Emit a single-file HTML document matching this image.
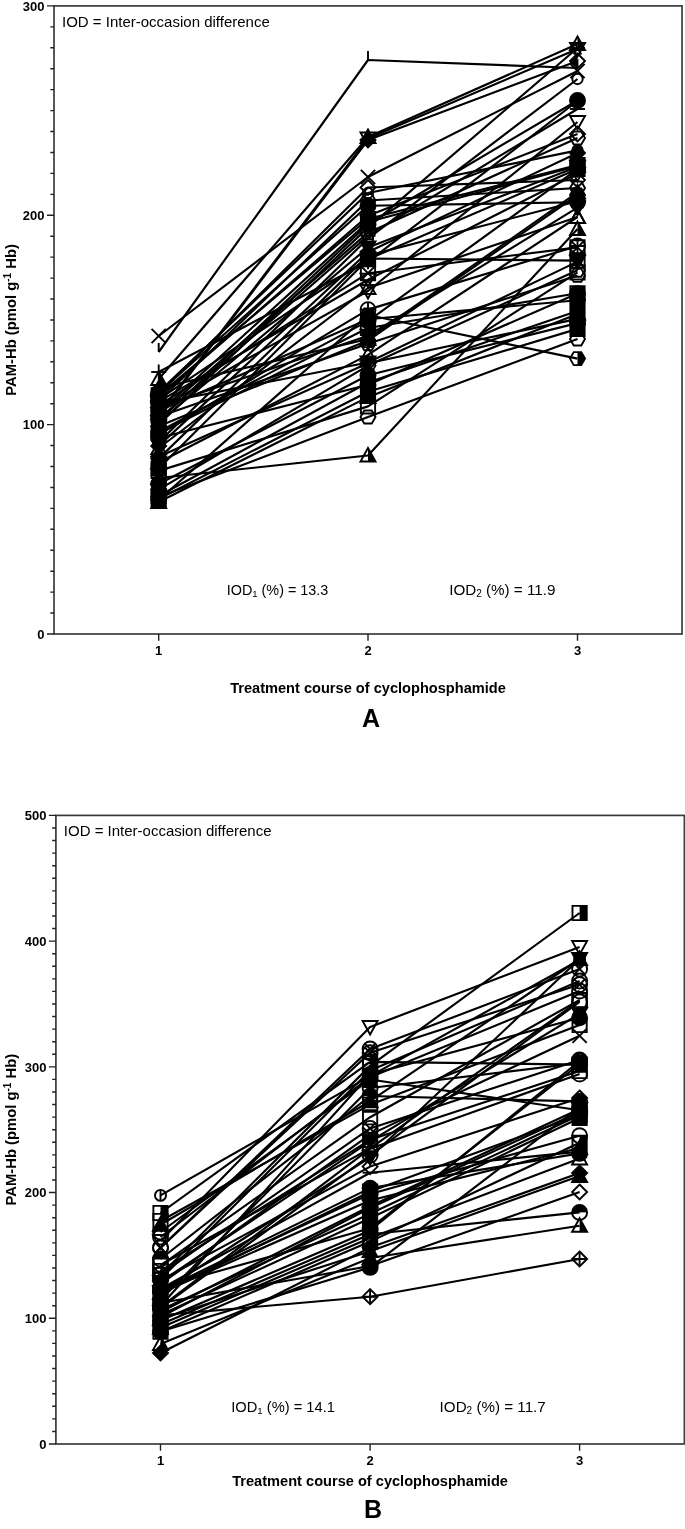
<!DOCTYPE html>
<html lang="en"><head><meta charset="utf-8"><title>PAM-Hb per treatment course</title>
<style>html,body{margin:0;padding:0;background:#fff}body{width:685px;height:1529px;overflow:hidden}svg{display:block}</style></head>
<body>
<svg width="685" height="1529" viewBox="0 0 685 1529" font-family='"Liberation Sans", Arial, sans-serif' fill="#000">
<g><polyline points="158.7,352 368,60 577.5,68" fill="none" stroke="#000" stroke-width="2.15" stroke-linejoin="round"/><line x1="158.7" y1="352" x2="158.7" y2="343" stroke="#000" stroke-width="1.9"/><line x1="368" y1="60" x2="368" y2="51" stroke="#000" stroke-width="1.9"/><line x1="577.5" y1="68" x2="577.5" y2="59" stroke="#000" stroke-width="1.9"/><polyline points="158.7,379 368,137 577.5,44" fill="none" stroke="#000" stroke-width="2.15" stroke-linejoin="round"/><polygon points="158.7,371.5 166.2,385 151.2,385" fill="none" stroke="#000" stroke-width="1.9" stroke-linejoin="miter"/><clipPath id="cp0"><polygon points="158.7,371.5 166.2,385 151.2,385"/></clipPath><rect x="158.7" y="369.25" width="9.75" height="19.5" fill="#000" clip-path="url(#cp0)"/><polygon points="368,129.5 375.5,143 360.5,143" fill="none" stroke="#000" stroke-width="1.9" stroke-linejoin="miter"/><clipPath id="cp1"><polygon points="368,129.5 375.5,143 360.5,143"/></clipPath><rect x="368" y="127.25" width="9.75" height="19.5" fill="#000" clip-path="url(#cp1)"/><polygon points="577.5,36.5 585,50 570,50" fill="none" stroke="#000" stroke-width="1.9" stroke-linejoin="miter"/><clipPath id="cp2"><polygon points="577.5,36.5 585,50 570,50"/></clipPath><rect x="577.5" y="34.25" width="9.75" height="19.5" fill="#000" clip-path="url(#cp2)"/><polyline points="158.7,414 368,138.5 577.5,49" fill="none" stroke="#000" stroke-width="2.15" stroke-linejoin="round"/><polygon points="158.7,421.5 166.2,408 151.2,408" fill="none" stroke="#000" stroke-width="1.9" stroke-linejoin="miter"/><polygon points="368,146 375.5,132.5 360.5,132.5" fill="none" stroke="#000" stroke-width="1.9" stroke-linejoin="miter"/><polygon points="577.5,56.5 585,43 570,43" fill="none" stroke="#000" stroke-width="1.9" stroke-linejoin="miter"/><polyline points="158.7,415 368,140 577.5,61" fill="none" stroke="#000" stroke-width="2.15" stroke-linejoin="round"/><polygon points="158.7,407.5 166.2,415 158.7,422.5 151.2,415" fill="none" stroke="#000" stroke-width="1.9" stroke-linejoin="miter"/><clipPath id="cp6"><polygon points="158.7,407.5 166.2,415 158.7,422.5 151.2,415"/></clipPath><rect x="148.95" y="405.25" width="9.75" height="19.5" fill="#000" clip-path="url(#cp6)"/><polygon points="368,132.5 375.5,140 368,147.5 360.5,140" fill="none" stroke="#000" stroke-width="1.9" stroke-linejoin="miter"/><clipPath id="cp7"><polygon points="368,132.5 375.5,140 368,147.5 360.5,140"/></clipPath><rect x="358.25" y="130.25" width="9.75" height="19.5" fill="#000" clip-path="url(#cp7)"/><polygon points="577.5,53.5 585,61 577.5,68.5 570,61" fill="none" stroke="#000" stroke-width="1.9" stroke-linejoin="miter"/><clipPath id="cp8"><polygon points="577.5,53.5 585,61 577.5,68.5 570,61"/></clipPath><rect x="567.75" y="51.25" width="9.75" height="19.5" fill="#000" clip-path="url(#cp8)"/><polyline points="158.7,336 368,177 577.5,71" fill="none" stroke="#000" stroke-width="2.15" stroke-linejoin="round"/><line x1="151.57" y1="328.88" x2="165.82" y2="343.12" stroke="#000" stroke-width="1.9"/><line x1="151.57" y1="343.12" x2="165.82" y2="328.88" stroke="#000" stroke-width="1.9"/><line x1="360.88" y1="169.88" x2="375.12" y2="184.12" stroke="#000" stroke-width="1.9"/><line x1="360.88" y1="184.12" x2="375.12" y2="169.88" stroke="#000" stroke-width="1.9"/><line x1="570.38" y1="63.88" x2="584.62" y2="78.12" stroke="#000" stroke-width="1.9"/><line x1="570.38" y1="78.12" x2="584.62" y2="63.88" stroke="#000" stroke-width="1.9"/><polyline points="158.7,394 368,187.5 577.5,180" fill="none" stroke="#000" stroke-width="2.15" stroke-linejoin="round"/><polygon points="158.7,386.5 166.2,394 158.7,401.5 151.2,394" fill="none" stroke="#000" stroke-width="1.9" stroke-linejoin="miter"/><polygon points="368,180 375.5,187.5 368,195 360.5,187.5" fill="none" stroke="#000" stroke-width="1.9" stroke-linejoin="miter"/><polygon points="577.5,172.5 585,180 577.5,187.5 570,180" fill="none" stroke="#000" stroke-width="1.9" stroke-linejoin="miter"/><polyline points="158.7,392 368,193 577.5,150.4" fill="none" stroke="#000" stroke-width="2.15" stroke-linejoin="round"/><circle cx="158.7" cy="392" r="5.2" fill="none" stroke="#000" stroke-width="1.9"/><circle cx="368" cy="193" r="5.2" fill="none" stroke="#000" stroke-width="1.9"/><circle cx="577.5" cy="150.4" r="5.2" fill="none" stroke="#000" stroke-width="1.9"/><polyline points="158.7,401 368,200.5 577.5,188" fill="none" stroke="#000" stroke-width="2.15" stroke-linejoin="round"/><polygon points="166.2,401 162.45,407.5 154.95,407.5 151.2,401 154.95,394.5 162.45,394.5" fill="none" stroke="#000" stroke-width="1.9" stroke-linejoin="miter"/><polygon points="375.5,200.5 371.75,207 364.25,207 360.5,200.5 364.25,194 371.75,194" fill="none" stroke="#000" stroke-width="1.9" stroke-linejoin="miter"/><polygon points="585,188 581.25,194.5 573.75,194.5 570,188 573.75,181.5 581.25,181.5" fill="none" stroke="#000" stroke-width="1.9" stroke-linejoin="miter"/><polyline points="158.7,392.82 368,205.7 577.5,202.3" fill="none" stroke="#000" stroke-width="2.15" stroke-linejoin="round"/><circle cx="158.7" cy="392.82" r="7.5" fill="#000" stroke="#000" stroke-width="1.9"/><circle cx="368" cy="205.7" r="7.5" fill="#000" stroke="#000" stroke-width="1.9"/><circle cx="577.5" cy="202.3" r="7.5" fill="#000" stroke="#000" stroke-width="1.9"/><polyline points="158.7,397.55 368,215.8 577.5,134" fill="none" stroke="#000" stroke-width="2.15" stroke-linejoin="round"/><polygon points="158.7,390.05 166.2,397.55 158.7,405.05 151.2,397.55" fill="none" stroke="#000" stroke-width="1.9" stroke-linejoin="miter"/><polygon points="368,208.3 375.5,215.8 368,223.3 360.5,215.8" fill="none" stroke="#000" stroke-width="1.9" stroke-linejoin="miter"/><polygon points="577.5,126.5 585,134 577.5,141.5 570,134" fill="none" stroke="#000" stroke-width="1.9" stroke-linejoin="miter"/><polyline points="158.7,395.41 368,218.96 577.5,165" fill="none" stroke="#000" stroke-width="2.15" stroke-linejoin="round"/><polygon points="151.57,388.28 165.82,388.28 165.82,402.53 151.57,402.53" fill="#000" stroke="#000" stroke-width="1.9" stroke-linejoin="miter"/><polygon points="360.88,211.84 375.12,211.84 375.12,226.09 360.88,226.09" fill="#000" stroke="#000" stroke-width="1.9" stroke-linejoin="miter"/><polygon points="570.38,157.88 584.62,157.88 584.62,172.12 570.38,172.12" fill="#000" stroke="#000" stroke-width="1.9" stroke-linejoin="miter"/><polyline points="158.7,412.88 368,221.92 577.5,166" fill="none" stroke="#000" stroke-width="2.15" stroke-linejoin="round"/><polygon points="158.7,405.38 166.2,418.88 151.2,418.88" fill="#000" stroke="#000" stroke-width="1.9" stroke-linejoin="miter"/><polygon points="368,214.42 375.5,227.92 360.5,227.92" fill="#000" stroke="#000" stroke-width="1.9" stroke-linejoin="miter"/><polygon points="577.5,158.5 585,172 570,172" fill="#000" stroke="#000" stroke-width="1.9" stroke-linejoin="miter"/><polyline points="158.7,421 368,224.2 577.5,100.5" fill="none" stroke="#000" stroke-width="2.15" stroke-linejoin="round"/><circle cx="158.7" cy="421" r="7.5" fill="#000" stroke="#000" stroke-width="1.9"/><circle cx="368" cy="224.2" r="7.5" fill="#000" stroke="#000" stroke-width="1.9"/><circle cx="577.5" cy="100.5" r="7.5" fill="#000" stroke="#000" stroke-width="1.9"/><polyline points="158.7,424.38 368,227.64 577.5,48" fill="none" stroke="#000" stroke-width="2.15" stroke-linejoin="round"/><line x1="151.2" y1="424.38" x2="166.2" y2="424.38" stroke="#000" stroke-width="1.9"/><line x1="154.95" y1="417.89" x2="162.45" y2="430.88" stroke="#000" stroke-width="1.9"/><line x1="162.45" y1="417.89" x2="154.95" y2="430.88" stroke="#000" stroke-width="1.9"/><line x1="360.5" y1="227.64" x2="375.5" y2="227.64" stroke="#000" stroke-width="1.9"/><line x1="364.25" y1="221.14" x2="371.75" y2="234.14" stroke="#000" stroke-width="1.9"/><line x1="371.75" y1="221.14" x2="364.25" y2="234.14" stroke="#000" stroke-width="1.9"/><line x1="570" y1="48" x2="585" y2="48" stroke="#000" stroke-width="1.9"/><line x1="573.75" y1="41.5" x2="581.25" y2="54.5" stroke="#000" stroke-width="1.9"/><line x1="581.25" y1="41.5" x2="573.75" y2="54.5" stroke="#000" stroke-width="1.9"/><polyline points="158.7,414.8 368,232.66 577.5,138" fill="none" stroke="#000" stroke-width="2.15" stroke-linejoin="round"/><polygon points="166.2,414.8 162.45,421.3 154.95,421.3 151.2,414.8 154.95,408.3 162.45,408.3" fill="none" stroke="#000" stroke-width="1.9" stroke-linejoin="miter"/><polygon points="375.5,232.66 371.75,239.16 364.25,239.16 360.5,232.66 364.25,226.16 371.75,226.16" fill="none" stroke="#000" stroke-width="1.9" stroke-linejoin="miter"/><polygon points="585,138 581.25,144.5 573.75,144.5 570,138 573.75,131.5 581.25,131.5" fill="none" stroke="#000" stroke-width="1.9" stroke-linejoin="miter"/><polyline points="158.7,419.08 368,235.84 577.5,109" fill="none" stroke="#000" stroke-width="2.15" stroke-linejoin="round"/><line x1="151.2" y1="419.08" x2="166.2" y2="419.08" stroke="#000" stroke-width="1.9"/><line x1="360.5" y1="235.84" x2="375.5" y2="235.84" stroke="#000" stroke-width="1.9"/><line x1="570" y1="109" x2="585" y2="109" stroke="#000" stroke-width="1.9"/><polyline points="158.7,442.18 368,238.6 577.5,79" fill="none" stroke="#000" stroke-width="2.15" stroke-linejoin="round"/><circle cx="158.7" cy="442.18" r="5.2" fill="none" stroke="#000" stroke-width="1.9"/><circle cx="368" cy="238.6" r="5.2" fill="none" stroke="#000" stroke-width="1.9"/><circle cx="577.5" cy="79" r="5.2" fill="none" stroke="#000" stroke-width="1.9"/><polyline points="158.7,422.47 368,247.56 577.5,166.8" fill="none" stroke="#000" stroke-width="2.15" stroke-linejoin="round"/><polygon points="158.7,429.97 166.2,416.47 151.2,416.47" fill="#000" stroke="#000" stroke-width="1.9" stroke-linejoin="miter"/><polygon points="368,255.06 375.5,241.56 360.5,241.56" fill="#000" stroke="#000" stroke-width="1.9" stroke-linejoin="miter"/><polygon points="577.5,174.3 585,160.8 570,160.8" fill="#000" stroke="#000" stroke-width="1.9" stroke-linejoin="miter"/><polyline points="158.7,445.9 368,252.06 577.5,153" fill="none" stroke="#000" stroke-width="2.15" stroke-linejoin="round"/><polygon points="158.7,438.4 166.2,445.9 158.7,453.4 151.2,445.9" fill="#000" stroke="#000" stroke-width="1.9" stroke-linejoin="miter"/><polygon points="368,244.56 375.5,252.06 368,259.56 360.5,252.06" fill="#000" stroke="#000" stroke-width="1.9" stroke-linejoin="miter"/><polygon points="577.5,145.5 585,153 577.5,160.5 570,153" fill="#000" stroke="#000" stroke-width="1.9" stroke-linejoin="miter"/><polyline points="158.7,458.62 368,255.64 577.5,201.2" fill="none" stroke="#000" stroke-width="2.15" stroke-linejoin="round"/><polygon points="166.2,458.62 162.45,465.12 154.95,465.12 151.2,458.62 154.95,452.13 162.45,452.13" fill="#000" stroke="#000" stroke-width="1.9" stroke-linejoin="miter"/><polygon points="375.5,255.64 371.75,262.14 364.25,262.14 360.5,255.64 364.25,249.14 371.75,249.14" fill="#000" stroke="#000" stroke-width="1.9" stroke-linejoin="miter"/><polygon points="585,201.2 581.25,207.7 573.75,207.7 570,201.2 573.75,194.7 581.25,194.7" fill="#000" stroke="#000" stroke-width="1.9" stroke-linejoin="miter"/><polyline points="158.7,399.47 368,258.5 577.5,260.6" fill="none" stroke="#000" stroke-width="2.15" stroke-linejoin="round"/><polygon points="151.57,392.34 165.82,392.34 165.82,406.59 151.57,406.59" fill="none" stroke="#000" stroke-width="1.9" stroke-linejoin="miter"/><clipPath id="cp48"><polygon points="151.57,392.34 165.82,392.34 165.82,406.59 151.57,406.59"/></clipPath><g clip-path="url(#cp48)"><line x1="148.95" y1="389.72" x2="168.45" y2="409.22" stroke="#000" stroke-width="1.9"/><line x1="148.95" y1="409.22" x2="168.45" y2="389.72" stroke="#000" stroke-width="1.9"/></g><polygon points="360.88,251.38 375.12,251.38 375.12,265.62 360.88,265.62" fill="none" stroke="#000" stroke-width="1.9" stroke-linejoin="miter"/><clipPath id="cp49"><polygon points="360.88,251.38 375.12,251.38 375.12,265.62 360.88,265.62"/></clipPath><g clip-path="url(#cp49)"><line x1="358.25" y1="248.75" x2="377.75" y2="268.25" stroke="#000" stroke-width="1.9"/><line x1="358.25" y1="268.25" x2="377.75" y2="248.75" stroke="#000" stroke-width="1.9"/></g><polygon points="570.38,253.48 584.62,253.48 584.62,267.73 570.38,267.73" fill="none" stroke="#000" stroke-width="1.9" stroke-linejoin="miter"/><clipPath id="cp50"><polygon points="570.38,253.48 584.62,253.48 584.62,267.73 570.38,267.73"/></clipPath><g clip-path="url(#cp50)"><line x1="567.75" y1="250.85" x2="587.25" y2="270.35" stroke="#000" stroke-width="1.9"/><line x1="567.75" y1="270.35" x2="587.25" y2="250.85" stroke="#000" stroke-width="1.9"/></g><polyline points="158.7,468.53 368,259.26 577.5,169" fill="none" stroke="#000" stroke-width="2.15" stroke-linejoin="round"/><polygon points="151.57,461.41 165.82,461.41 165.82,475.66 151.57,475.66" fill="#000" stroke="#000" stroke-width="1.9" stroke-linejoin="miter"/><polygon points="360.88,252.13 375.12,252.13 375.12,266.38 360.88,266.38" fill="#000" stroke="#000" stroke-width="1.9" stroke-linejoin="miter"/><polygon points="570.38,161.88 584.62,161.88 584.62,176.12 570.38,176.12" fill="#000" stroke="#000" stroke-width="1.9" stroke-linejoin="miter"/><polyline points="158.7,372 368,261.8 577.5,101" fill="none" stroke="#000" stroke-width="2.15" stroke-linejoin="round"/><line x1="151.2" y1="372" x2="166.2" y2="372" stroke="#000" stroke-width="1.9"/><line x1="158.7" y1="364.5" x2="158.7" y2="379.5" stroke="#000" stroke-width="1.9"/><line x1="360.5" y1="261.8" x2="375.5" y2="261.8" stroke="#000" stroke-width="1.9"/><line x1="368" y1="254.3" x2="368" y2="269.3" stroke="#000" stroke-width="1.9"/><line x1="570" y1="101" x2="585" y2="101" stroke="#000" stroke-width="1.9"/><line x1="577.5" y1="93.5" x2="577.5" y2="108.5" stroke="#000" stroke-width="1.9"/><polyline points="158.7,405.44 368,273.2 577.5,247.4" fill="none" stroke="#000" stroke-width="2.15" stroke-linejoin="round"/><polygon points="151.57,398.32 165.82,398.32 165.82,412.57 151.57,412.57" fill="none" stroke="#000" stroke-width="1.9" stroke-linejoin="miter"/><clipPath id="cp54"><polygon points="151.57,398.32 165.82,398.32 165.82,412.57 151.57,412.57"/></clipPath><g clip-path="url(#cp54)"><line x1="148.95" y1="395.69" x2="168.45" y2="415.19" stroke="#000" stroke-width="1.9"/><line x1="148.95" y1="415.19" x2="168.45" y2="395.69" stroke="#000" stroke-width="1.9"/></g><polygon points="360.88,266.07 375.12,266.07 375.12,280.32 360.88,280.32" fill="none" stroke="#000" stroke-width="1.9" stroke-linejoin="miter"/><clipPath id="cp55"><polygon points="360.88,266.07 375.12,266.07 375.12,280.32 360.88,280.32"/></clipPath><g clip-path="url(#cp55)"><line x1="358.25" y1="263.45" x2="377.75" y2="282.95" stroke="#000" stroke-width="1.9"/><line x1="358.25" y1="282.95" x2="377.75" y2="263.45" stroke="#000" stroke-width="1.9"/></g><polygon points="570.38,240.28 584.62,240.28 584.62,254.53 570.38,254.53" fill="none" stroke="#000" stroke-width="1.9" stroke-linejoin="miter"/><clipPath id="cp56"><polygon points="570.38,240.28 584.62,240.28 584.62,254.53 570.38,254.53"/></clipPath><g clip-path="url(#cp56)"><line x1="567.75" y1="237.65" x2="587.25" y2="257.15" stroke="#000" stroke-width="1.9"/><line x1="567.75" y1="257.15" x2="587.25" y2="237.65" stroke="#000" stroke-width="1.9"/></g><polyline points="158.7,401.56 368,279.72 577.5,173.6" fill="none" stroke="#000" stroke-width="2.15" stroke-linejoin="round"/><polygon points="158.7,409.06 166.2,395.56 151.2,395.56" fill="none" stroke="#000" stroke-width="1.9" stroke-linejoin="miter"/><polygon points="368,287.22 375.5,273.72 360.5,273.72" fill="none" stroke="#000" stroke-width="1.9" stroke-linejoin="miter"/><polygon points="577.5,181.1 585,167.6 570,167.6" fill="none" stroke="#000" stroke-width="1.9" stroke-linejoin="miter"/><polyline points="158.7,448.27 368,288 577.5,217" fill="none" stroke="#000" stroke-width="2.15" stroke-linejoin="round"/><polygon points="158.7,440.77 166.2,454.27 151.2,454.27" fill="none" stroke="#000" stroke-width="1.9" stroke-linejoin="miter"/><polygon points="368,280.5 375.5,294 360.5,294" fill="none" stroke="#000" stroke-width="1.9" stroke-linejoin="miter"/><polygon points="577.5,209.5 585,223 570,223" fill="none" stroke="#000" stroke-width="1.9" stroke-linejoin="miter"/><polyline points="158.7,408.74 368,291.02 577.5,122" fill="none" stroke="#000" stroke-width="2.15" stroke-linejoin="round"/><polygon points="158.7,416.24 166.2,402.74 151.2,402.74" fill="none" stroke="#000" stroke-width="1.9" stroke-linejoin="miter"/><polygon points="368,298.52 375.5,285.02 360.5,285.02" fill="none" stroke="#000" stroke-width="1.9" stroke-linejoin="miter"/><polygon points="577.5,129.5 585,116 570,116" fill="none" stroke="#000" stroke-width="1.9" stroke-linejoin="miter"/><polyline points="158.7,434.88 368,309.64 577.5,246" fill="none" stroke="#000" stroke-width="2.15" stroke-linejoin="round"/><circle cx="158.7" cy="434.88" r="7.5" fill="none" stroke="#000" stroke-width="1.9"/><clipPath id="cp66"><circle cx="158.7" cy="434.88" r="7.5"/></clipPath><g clip-path="url(#cp66)"><line x1="148.95" y1="434.88" x2="168.45" y2="434.88" stroke="#000" stroke-width="1.9"/><line x1="158.7" y1="425.13" x2="158.7" y2="444.63" stroke="#000" stroke-width="1.9"/></g><circle cx="368" cy="309.64" r="7.5" fill="none" stroke="#000" stroke-width="1.9"/><clipPath id="cp67"><circle cx="368" cy="309.64" r="7.5"/></clipPath><g clip-path="url(#cp67)"><line x1="358.25" y1="309.64" x2="377.75" y2="309.64" stroke="#000" stroke-width="1.9"/><line x1="368" y1="299.89" x2="368" y2="319.39" stroke="#000" stroke-width="1.9"/></g><circle cx="577.5" cy="246" r="7.5" fill="none" stroke="#000" stroke-width="1.9"/><clipPath id="cp68"><circle cx="577.5" cy="246" r="7.5"/></clipPath><g clip-path="url(#cp68)"><line x1="567.75" y1="246" x2="587.25" y2="246" stroke="#000" stroke-width="1.9"/><line x1="577.5" y1="236.25" x2="577.5" y2="255.75" stroke="#000" stroke-width="1.9"/></g><polyline points="158.7,500 368,315 577.5,358.6" fill="none" stroke="#000" stroke-width="2.15" stroke-linejoin="round"/><polygon points="166.2,500 162.45,506.5 154.95,506.5 151.2,500 154.95,493.5 162.45,493.5" fill="none" stroke="#000" stroke-width="1.9" stroke-linejoin="miter"/><clipPath id="cp69"><polygon points="166.2,500 162.45,506.5 154.95,506.5 151.2,500 154.95,493.5 162.45,493.5"/></clipPath><rect x="158.7" y="490.25" width="9.75" height="19.5" fill="#000" clip-path="url(#cp69)"/><polygon points="375.5,315 371.75,321.5 364.25,321.5 360.5,315 364.25,308.5 371.75,308.5" fill="none" stroke="#000" stroke-width="1.9" stroke-linejoin="miter"/><clipPath id="cp70"><polygon points="375.5,315 371.75,321.5 364.25,321.5 360.5,315 364.25,308.5 371.75,308.5"/></clipPath><rect x="368" y="305.25" width="9.75" height="19.5" fill="#000" clip-path="url(#cp70)"/><polygon points="585,358.6 581.25,365.1 573.75,365.1 570,358.6 573.75,352.1 581.25,352.1" fill="none" stroke="#000" stroke-width="1.9" stroke-linejoin="miter"/><clipPath id="cp71"><polygon points="585,358.6 581.25,365.1 573.75,365.1 570,358.6 573.75,352.1 581.25,352.1"/></clipPath><rect x="577.5" y="348.85" width="9.75" height="19.5" fill="#000" clip-path="url(#cp71)"/><polyline points="158.7,410.74 368,319.25 577.5,300.2" fill="none" stroke="#000" stroke-width="2.15" stroke-linejoin="round"/><circle cx="158.7" cy="410.74" r="7.5" fill="#000" stroke="#000" stroke-width="1.9"/><circle cx="368" cy="319.25" r="7.5" fill="#000" stroke="#000" stroke-width="1.9"/><circle cx="577.5" cy="300.2" r="7.5" fill="#000" stroke="#000" stroke-width="1.9"/><polyline points="158.7,431.82 368,321.08 577.5,169.2" fill="none" stroke="#000" stroke-width="2.15" stroke-linejoin="round"/><circle cx="158.7" cy="431.82" r="7.5" fill="none" stroke="#000" stroke-width="1.9"/><clipPath id="cp75"><circle cx="158.7" cy="431.82" r="7.5"/></clipPath><rect x="148.95" y="422.07" width="9.75" height="19.5" fill="#000" clip-path="url(#cp75)"/><circle cx="368" cy="321.08" r="7.5" fill="none" stroke="#000" stroke-width="1.9"/><clipPath id="cp76"><circle cx="368" cy="321.08" r="7.5"/></clipPath><rect x="358.25" y="311.33" width="9.75" height="19.5" fill="#000" clip-path="url(#cp76)"/><circle cx="577.5" cy="169.2" r="7.5" fill="none" stroke="#000" stroke-width="1.9"/><clipPath id="cp77"><circle cx="577.5" cy="169.2" r="7.5"/></clipPath><rect x="567.75" y="159.45" width="9.75" height="19.5" fill="#000" clip-path="url(#cp77)"/><polyline points="158.7,433.28 368,328 577.5,293.3" fill="none" stroke="#000" stroke-width="2.15" stroke-linejoin="round"/><polygon points="151.57,426.16 165.82,426.16 165.82,440.41 151.57,440.41" fill="none" stroke="#000" stroke-width="1.9" stroke-linejoin="miter"/><clipPath id="cp78"><polygon points="151.57,426.16 165.82,426.16 165.82,440.41 151.57,440.41"/></clipPath><rect x="158.7" y="423.53" width="9.75" height="19.5" fill="#000" clip-path="url(#cp78)"/><polygon points="360.88,320.88 375.12,320.88 375.12,335.12 360.88,335.12" fill="none" stroke="#000" stroke-width="1.9" stroke-linejoin="miter"/><clipPath id="cp79"><polygon points="360.88,320.88 375.12,320.88 375.12,335.12 360.88,335.12"/></clipPath><rect x="368" y="318.25" width="9.75" height="19.5" fill="#000" clip-path="url(#cp79)"/><polygon points="570.38,286.18 584.62,286.18 584.62,300.43 570.38,300.43" fill="none" stroke="#000" stroke-width="1.9" stroke-linejoin="miter"/><clipPath id="cp80"><polygon points="570.38,286.18 584.62,286.18 584.62,300.43 570.38,300.43"/></clipPath><rect x="577.5" y="283.55" width="9.75" height="19.5" fill="#000" clip-path="url(#cp80)"/><polyline points="158.7,407.13 368,335.68 577.5,207.7" fill="none" stroke="#000" stroke-width="2.15" stroke-linejoin="round"/><polygon points="158.7,414.63 166.2,401.13 151.2,401.13" fill="#000" stroke="#000" stroke-width="1.9" stroke-linejoin="miter"/><polygon points="368,343.18 375.5,329.68 360.5,329.68" fill="#000" stroke="#000" stroke-width="1.9" stroke-linejoin="miter"/><polygon points="577.5,215.2 585,201.7 570,201.7" fill="#000" stroke="#000" stroke-width="1.9" stroke-linejoin="miter"/><polyline points="158.7,388.2 368,338.96 577.5,192.3" fill="none" stroke="#000" stroke-width="2.15" stroke-linejoin="round"/><polygon points="158.7,380.7 166.2,394.2 151.2,394.2" fill="#000" stroke="#000" stroke-width="1.9" stroke-linejoin="miter"/><polygon points="368,331.46 375.5,344.96 360.5,344.96" fill="#000" stroke="#000" stroke-width="1.9" stroke-linejoin="miter"/><polygon points="577.5,184.8 585,198.3 570,198.3" fill="#000" stroke="#000" stroke-width="1.9" stroke-linejoin="miter"/><polyline points="158.7,426.3 368,340.6 577.5,195" fill="none" stroke="#000" stroke-width="2.15" stroke-linejoin="round"/><polygon points="166.2,426.3 162.45,432.8 154.95,432.8 151.2,426.3 154.95,419.8 162.45,419.8" fill="none" stroke="#000" stroke-width="1.9" stroke-linejoin="miter"/><clipPath id="cp87"><polygon points="166.2,426.3 162.45,432.8 154.95,432.8 151.2,426.3 154.95,419.8 162.45,419.8"/></clipPath><rect x="158.7" y="416.55" width="9.75" height="19.5" fill="#000" clip-path="url(#cp87)"/><polygon points="375.5,340.6 371.75,347.1 364.25,347.1 360.5,340.6 364.25,334.1 371.75,334.1" fill="none" stroke="#000" stroke-width="1.9" stroke-linejoin="miter"/><clipPath id="cp88"><polygon points="375.5,340.6 371.75,347.1 364.25,347.1 360.5,340.6 364.25,334.1 371.75,334.1"/></clipPath><rect x="368" y="330.85" width="9.75" height="19.5" fill="#000" clip-path="url(#cp88)"/><polygon points="585,195 581.25,201.5 573.75,201.5 570,195 573.75,188.5 581.25,188.5" fill="none" stroke="#000" stroke-width="1.9" stroke-linejoin="miter"/><clipPath id="cp89"><polygon points="585,195 581.25,201.5 573.75,201.5 570,195 573.75,188.5 581.25,188.5"/></clipPath><rect x="577.5" y="185.25" width="9.75" height="19.5" fill="#000" clip-path="url(#cp89)"/><polyline points="158.7,416.72 368,343.72 577.5,275.4" fill="none" stroke="#000" stroke-width="2.15" stroke-linejoin="round"/><polygon points="166.2,416.72 162.45,423.21 154.95,423.21 151.2,416.72 154.95,410.22 162.45,410.22" fill="none" stroke="#000" stroke-width="1.9" stroke-linejoin="miter"/><polygon points="375.5,343.72 371.75,350.22 364.25,350.22 360.5,343.72 364.25,337.22 371.75,337.22" fill="none" stroke="#000" stroke-width="1.9" stroke-linejoin="miter"/><polygon points="585,275.4 581.25,281.9 573.75,281.9 570,275.4 573.75,268.9 581.25,268.9" fill="none" stroke="#000" stroke-width="1.9" stroke-linejoin="miter"/><polyline points="158.7,462.57 368,354.84 577.5,217" fill="none" stroke="#000" stroke-width="2.15" stroke-linejoin="round"/><polygon points="158.7,455.07 166.2,468.57 151.2,468.57" fill="none" stroke="#000" stroke-width="1.9" stroke-linejoin="miter"/><polygon points="368,347.34 375.5,360.84 360.5,360.84" fill="none" stroke="#000" stroke-width="1.9" stroke-linejoin="miter"/><polygon points="577.5,209.5 585,223 570,223" fill="none" stroke="#000" stroke-width="1.9" stroke-linejoin="miter"/><polyline points="158.7,403.3 368,362.52 577.5,261.6" fill="none" stroke="#000" stroke-width="2.15" stroke-linejoin="round"/><polygon points="158.7,410.8 166.2,397.3 151.2,397.3" fill="#000" stroke="#000" stroke-width="1.9" stroke-linejoin="miter"/><polygon points="368,370.02 375.5,356.52 360.5,356.52" fill="#000" stroke="#000" stroke-width="1.9" stroke-linejoin="miter"/><polygon points="577.5,269.1 585,255.6 570,255.6" fill="#000" stroke="#000" stroke-width="1.9" stroke-linejoin="miter"/><polyline points="158.7,456.71 368,363.24 577.5,318.9" fill="none" stroke="#000" stroke-width="2.15" stroke-linejoin="round"/><polygon points="158.7,449.21 166.2,456.71 158.7,464.21 151.2,456.71" fill="none" stroke="#000" stroke-width="1.9" stroke-linejoin="miter"/><clipPath id="cp99"><polygon points="158.7,449.21 166.2,456.71 158.7,464.21 151.2,456.71"/></clipPath><rect x="148.95" y="446.96" width="9.75" height="19.5" fill="#000" clip-path="url(#cp99)"/><polygon points="368,355.74 375.5,363.24 368,370.74 360.5,363.24" fill="none" stroke="#000" stroke-width="1.9" stroke-linejoin="miter"/><clipPath id="cp100"><polygon points="368,355.74 375.5,363.24 368,370.74 360.5,363.24"/></clipPath><rect x="358.25" y="353.49" width="9.75" height="19.5" fill="#000" clip-path="url(#cp100)"/><polygon points="577.5,311.4 585,318.9 577.5,326.4 570,318.9" fill="none" stroke="#000" stroke-width="1.9" stroke-linejoin="miter"/><clipPath id="cp101"><polygon points="577.5,311.4 585,318.9 577.5,326.4 570,318.9"/></clipPath><rect x="567.75" y="309.15" width="9.75" height="19.5" fill="#000" clip-path="url(#cp101)"/><polyline points="158.7,489.7 368,365.6 577.5,270.2" fill="none" stroke="#000" stroke-width="2.15" stroke-linejoin="round"/><polygon points="166.2,489.7 162.45,496.2 154.95,496.2 151.2,489.7 154.95,483.2 162.45,483.2" fill="none" stroke="#000" stroke-width="1.9" stroke-linejoin="miter"/><polygon points="375.5,365.6 371.75,372.1 364.25,372.1 360.5,365.6 364.25,359.1 371.75,359.1" fill="none" stroke="#000" stroke-width="1.9" stroke-linejoin="miter"/><polygon points="585,270.2 581.25,276.7 573.75,276.7 570,270.2 573.75,263.7 581.25,263.7" fill="none" stroke="#000" stroke-width="1.9" stroke-linejoin="miter"/><polyline points="158.7,484 368,375.24 577.5,323.1" fill="none" stroke="#000" stroke-width="2.15" stroke-linejoin="round"/><circle cx="158.7" cy="484" r="7.5" fill="#000" stroke="#000" stroke-width="1.9"/><circle cx="368" cy="375.24" r="7.5" fill="#000" stroke="#000" stroke-width="1.9"/><circle cx="577.5" cy="323.1" r="7.5" fill="#000" stroke="#000" stroke-width="1.9"/><polyline points="158.7,496 368,382.48 577.5,310.9" fill="none" stroke="#000" stroke-width="2.15" stroke-linejoin="round"/><polygon points="151.57,488.88 165.82,488.88 165.82,503.12 151.57,503.12" fill="#000" stroke="#000" stroke-width="1.9" stroke-linejoin="miter"/><polygon points="360.88,375.36 375.12,375.36 375.12,389.61 360.88,389.61" fill="#000" stroke="#000" stroke-width="1.9" stroke-linejoin="miter"/><polygon points="570.38,303.77 584.62,303.77 584.62,318.02 570.38,318.02" fill="#000" stroke="#000" stroke-width="1.9" stroke-linejoin="miter"/><polyline points="158.7,438.02 368,384.8 577.5,293.6" fill="none" stroke="#000" stroke-width="2.15" stroke-linejoin="round"/><circle cx="158.7" cy="438.02" r="7.5" fill="#000" stroke="#000" stroke-width="1.9"/><circle cx="368" cy="384.8" r="7.5" fill="#000" stroke="#000" stroke-width="1.9"/><circle cx="577.5" cy="293.6" r="7.5" fill="#000" stroke="#000" stroke-width="1.9"/><polyline points="158.7,499 368,391.8 577.5,328.9" fill="none" stroke="#000" stroke-width="2.15" stroke-linejoin="round"/><polygon points="151.57,491.88 165.82,491.88 165.82,506.12 151.57,506.12" fill="#000" stroke="#000" stroke-width="1.9" stroke-linejoin="miter"/><polygon points="360.88,384.68 375.12,384.68 375.12,398.93 360.88,398.93" fill="#000" stroke="#000" stroke-width="1.9" stroke-linejoin="miter"/><polygon points="570.38,321.77 584.62,321.77 584.62,336.02 570.38,336.02" fill="#000" stroke="#000" stroke-width="1.9" stroke-linejoin="miter"/><polyline points="158.7,502 368,397.14 577.5,313.9" fill="none" stroke="#000" stroke-width="2.15" stroke-linejoin="round"/><polygon points="158.7,494.5 166.2,508 151.2,508" fill="#000" stroke="#000" stroke-width="1.9" stroke-linejoin="miter"/><polygon points="368,389.64 375.5,403.14 360.5,403.14" fill="#000" stroke="#000" stroke-width="1.9" stroke-linejoin="miter"/><polygon points="577.5,306.4 585,319.9 570,319.9" fill="#000" stroke="#000" stroke-width="1.9" stroke-linejoin="miter"/><polyline points="158.7,470.9 368,406.4 577.5,272.3" fill="none" stroke="#000" stroke-width="2.15" stroke-linejoin="round"/><polygon points="151.57,463.77 165.82,463.77 165.82,478.02 151.57,478.02" fill="none" stroke="#000" stroke-width="1.9" stroke-linejoin="miter"/><polygon points="360.88,399.28 375.12,399.28 375.12,413.53 360.88,413.53" fill="none" stroke="#000" stroke-width="1.9" stroke-linejoin="miter"/><polygon points="570.38,265.18 584.62,265.18 584.62,279.43 570.38,279.43" fill="none" stroke="#000" stroke-width="1.9" stroke-linejoin="miter"/><polyline points="158.7,497 368,417 577.5,339" fill="none" stroke="#000" stroke-width="2.15" stroke-linejoin="round"/><polygon points="166.2,497 162.45,503.5 154.95,503.5 151.2,497 154.95,490.5 162.45,490.5" fill="none" stroke="#000" stroke-width="1.9" stroke-linejoin="miter"/><polygon points="375.5,417 371.75,423.5 364.25,423.5 360.5,417 364.25,410.5 371.75,410.5" fill="none" stroke="#000" stroke-width="1.9" stroke-linejoin="miter"/><polygon points="585,339 581.25,345.5 573.75,345.5 570,339 573.75,332.5 581.25,332.5" fill="none" stroke="#000" stroke-width="1.9" stroke-linejoin="miter"/><polyline points="158.7,478 368,455.5 577.5,229" fill="none" stroke="#000" stroke-width="2.15" stroke-linejoin="round"/><polygon points="158.7,470.5 166.2,484 151.2,484" fill="none" stroke="#000" stroke-width="1.9" stroke-linejoin="miter"/><clipPath id="cp126"><polygon points="158.7,470.5 166.2,484 151.2,484"/></clipPath><rect x="158.7" y="468.25" width="9.75" height="19.5" fill="#000" clip-path="url(#cp126)"/><polygon points="368,448 375.5,461.5 360.5,461.5" fill="none" stroke="#000" stroke-width="1.9" stroke-linejoin="miter"/><clipPath id="cp127"><polygon points="368,448 375.5,461.5 360.5,461.5"/></clipPath><rect x="368" y="445.75" width="9.75" height="19.5" fill="#000" clip-path="url(#cp127)"/><polygon points="577.5,221.5 585,235 570,235" fill="none" stroke="#000" stroke-width="1.9" stroke-linejoin="miter"/><clipPath id="cp128"><polygon points="577.5,221.5 585,235 570,235"/></clipPath><rect x="577.5" y="219.25" width="9.75" height="19.5" fill="#000" clip-path="url(#cp128)"/></g>
<rect x="54" y="5.9" width="628" height="628.1" fill="none" stroke="#3c3c3c" stroke-width="1.7"/>
<text x="44.5" y="638.7" text-anchor="end" font-weight="bold" font-size="13">0</text>
<text x="44.5" y="429.33" text-anchor="end" font-weight="bold" font-size="13">100</text>
<text x="44.5" y="219.97" text-anchor="end" font-weight="bold" font-size="13">200</text>
<text x="44.5" y="10.6" text-anchor="end" font-weight="bold" font-size="13">300</text>
<text x="158.7" y="655.4" text-anchor="middle" font-weight="bold" font-size="13">1</text>
<text x="368" y="655.4" text-anchor="middle" font-weight="bold" font-size="13">2</text>
<text x="577.5" y="655.4" text-anchor="middle" font-weight="bold" font-size="13">3</text>
<path d="M47 634H54M50.3 613.06H54M50.3 592.13H54M50.3 571.19H54M50.3 550.25H54M50.3 529.32H54M50.3 508.38H54M50.3 487.44H54M50.3 466.51H54M50.3 445.57H54M47 424.63H54M50.3 403.7H54M50.3 382.76H54M50.3 361.82H54M50.3 340.89H54M50.3 319.95H54M50.3 299.01H54M50.3 278.08H54M50.3 257.14H54M50.3 236.2H54M47 215.27H54M50.3 194.33H54M50.3 173.39H54M50.3 152.46H54M50.3 131.52H54M50.3 110.58H54M50.3 89.65H54M50.3 68.71H54M50.3 47.77H54M50.3 26.84H54M47 5.9H54M158.7 634V640.8M368 634V640.8M577.5 634V640.8" stroke="#222" stroke-width="1.4" fill="none"/>
<text x="62" y="27.4" font-size="15">IOD = Inter-occasion difference</text>
<text x="226.7" y="595" font-size="14.4">IOD<tspan font-size="9.5" dy="2.2">1</tspan><tspan dy="-2.2"> (%) = 13.3</tspan></text>
<text x="449.2" y="595" font-size="15.2">IOD<tspan font-size="10.03" dy="2.2">2</tspan><tspan dy="-2.2"> (%) = 11.9</tspan></text>
<text x="368" y="693.2" text-anchor="middle" font-weight="bold" font-size="14.6">Treatment course of cyclophosphamide</text>
<text x="371" y="727.2" text-anchor="middle" font-weight="bold" font-size="25">A</text>
<text transform="translate(16.3 319.95) rotate(-90)" text-anchor="middle" font-weight="bold" font-size="14.8">PAM-Hb (pmol g<tspan font-size="10" dy="-5.5">-1</tspan><tspan dy="5.5"> Hb)</tspan></text>
<g><polyline points="160.5,1241 370.1,1027 579.6,947" fill="none" stroke="#000" stroke-width="2.15" stroke-linejoin="round"/><polygon points="160.5,1248.5 168,1235 153,1235" fill="none" stroke="#000" stroke-width="1.9" stroke-linejoin="miter"/><polygon points="370.1,1034.5 377.6,1021 362.6,1021" fill="none" stroke="#000" stroke-width="1.9" stroke-linejoin="miter"/><polygon points="579.6,954.5 587.1,941 572.1,941" fill="none" stroke="#000" stroke-width="1.9" stroke-linejoin="miter"/><polyline points="160.5,1247.6 370.1,1049 579.6,969" fill="none" stroke="#000" stroke-width="2.15" stroke-linejoin="round"/><circle cx="160.5" cy="1247.6" r="7.5" fill="none" stroke="#000" stroke-width="1.9"/><clipPath id="cp132"><circle cx="160.5" cy="1247.6" r="7.5"/></clipPath><g clip-path="url(#cp132)"><line x1="150.75" y1="1237.85" x2="170.25" y2="1257.35" stroke="#000" stroke-width="1.9"/><line x1="150.75" y1="1257.35" x2="170.25" y2="1237.85" stroke="#000" stroke-width="1.9"/></g><circle cx="370.1" cy="1049" r="7.5" fill="none" stroke="#000" stroke-width="1.9"/><clipPath id="cp133"><circle cx="370.1" cy="1049" r="7.5"/></clipPath><g clip-path="url(#cp133)"><line x1="360.35" y1="1039.25" x2="379.85" y2="1058.75" stroke="#000" stroke-width="1.9"/><line x1="360.35" y1="1058.75" x2="379.85" y2="1039.25" stroke="#000" stroke-width="1.9"/></g><circle cx="579.6" cy="969" r="7.5" fill="none" stroke="#000" stroke-width="1.9"/><clipPath id="cp134"><circle cx="579.6" cy="969" r="7.5"/></clipPath><g clip-path="url(#cp134)"><line x1="569.85" y1="959.25" x2="589.35" y2="978.75" stroke="#000" stroke-width="1.9"/><line x1="569.85" y1="978.75" x2="589.35" y2="959.25" stroke="#000" stroke-width="1.9"/></g><polyline points="160.5,1247.8 370.1,1052.72 579.6,984.6" fill="none" stroke="#000" stroke-width="2.15" stroke-linejoin="round"/><circle cx="160.5" cy="1247.8" r="7.5" fill="none" stroke="#000" stroke-width="1.9"/><clipPath id="cp135"><circle cx="160.5" cy="1247.8" r="7.5"/></clipPath><g clip-path="url(#cp135)"><line x1="150.75" y1="1238.05" x2="170.25" y2="1257.55" stroke="#000" stroke-width="1.9"/><line x1="150.75" y1="1257.55" x2="170.25" y2="1238.05" stroke="#000" stroke-width="1.9"/></g><circle cx="370.1" cy="1052.72" r="7.5" fill="none" stroke="#000" stroke-width="1.9"/><clipPath id="cp136"><circle cx="370.1" cy="1052.72" r="7.5"/></clipPath><g clip-path="url(#cp136)"><line x1="360.35" y1="1042.97" x2="379.85" y2="1062.47" stroke="#000" stroke-width="1.9"/><line x1="360.35" y1="1062.47" x2="379.85" y2="1042.97" stroke="#000" stroke-width="1.9"/></g><circle cx="579.6" cy="984.6" r="7.5" fill="none" stroke="#000" stroke-width="1.9"/><clipPath id="cp137"><circle cx="579.6" cy="984.6" r="7.5"/></clipPath><g clip-path="url(#cp137)"><line x1="569.85" y1="974.85" x2="589.35" y2="994.35" stroke="#000" stroke-width="1.9"/><line x1="569.85" y1="994.35" x2="589.35" y2="974.85" stroke="#000" stroke-width="1.9"/></g><polyline points="160.5,1213 370.1,1061.85 579.6,1064.6" fill="none" stroke="#000" stroke-width="2.15" stroke-linejoin="round"/><polygon points="153.38,1205.88 167.62,1205.88 167.62,1220.12 153.38,1220.12" fill="none" stroke="#000" stroke-width="1.9" stroke-linejoin="miter"/><clipPath id="cp138"><polygon points="153.38,1205.88 167.62,1205.88 167.62,1220.12 153.38,1220.12"/></clipPath><rect x="160.5" y="1203.25" width="9.75" height="19.5" fill="#000" clip-path="url(#cp138)"/><polygon points="362.98,1054.72 377.23,1054.72 377.23,1068.97 362.98,1068.97" fill="none" stroke="#000" stroke-width="1.9" stroke-linejoin="miter"/><clipPath id="cp139"><polygon points="362.98,1054.72 377.23,1054.72 377.23,1068.97 362.98,1068.97"/></clipPath><rect x="370.1" y="1052.1" width="9.75" height="19.5" fill="#000" clip-path="url(#cp139)"/><polygon points="572.48,1057.47 586.73,1057.47 586.73,1071.72 572.48,1071.72" fill="none" stroke="#000" stroke-width="1.9" stroke-linejoin="miter"/><clipPath id="cp140"><polygon points="572.48,1057.47 586.73,1057.47 586.73,1071.72 572.48,1071.72"/></clipPath><rect x="579.6" y="1054.85" width="9.75" height="19.5" fill="#000" clip-path="url(#cp140)"/><polyline points="160.5,1275 370.1,1065.88 579.6,913" fill="none" stroke="#000" stroke-width="2.15" stroke-linejoin="round"/><polygon points="153.38,1267.88 167.62,1267.88 167.62,1282.12 153.38,1282.12" fill="none" stroke="#000" stroke-width="1.9" stroke-linejoin="miter"/><clipPath id="cp141"><polygon points="153.38,1267.88 167.62,1267.88 167.62,1282.12 153.38,1282.12"/></clipPath><rect x="160.5" y="1265.25" width="9.75" height="19.5" fill="#000" clip-path="url(#cp141)"/><polygon points="362.98,1058.76 377.23,1058.76 377.23,1073.01 362.98,1073.01" fill="none" stroke="#000" stroke-width="1.9" stroke-linejoin="miter"/><clipPath id="cp142"><polygon points="362.98,1058.76 377.23,1058.76 377.23,1073.01 362.98,1073.01"/></clipPath><rect x="370.1" y="1056.13" width="9.75" height="19.5" fill="#000" clip-path="url(#cp142)"/><polygon points="572.48,905.88 586.73,905.88 586.73,920.12 572.48,920.12" fill="none" stroke="#000" stroke-width="1.9" stroke-linejoin="miter"/><clipPath id="cp143"><polygon points="572.48,905.88 586.73,905.88 586.73,920.12 572.48,920.12"/></clipPath><rect x="579.6" y="903.25" width="9.75" height="19.5" fill="#000" clip-path="url(#cp143)"/><polyline points="160.5,1279 370.1,1070.56 579.6,981" fill="none" stroke="#000" stroke-width="2.15" stroke-linejoin="round"/><circle cx="160.5" cy="1279" r="7.5" fill="none" stroke="#000" stroke-width="1.9"/><circle cx="370.1" cy="1070.56" r="7.5" fill="none" stroke="#000" stroke-width="1.9"/><circle cx="579.6" cy="981" r="7.5" fill="none" stroke="#000" stroke-width="1.9"/><polyline points="160.5,1306 370.1,1074.52 579.6,1017.8" fill="none" stroke="#000" stroke-width="2.15" stroke-linejoin="round"/><circle cx="160.5" cy="1306" r="7.5" fill="#000" stroke="#000" stroke-width="1.9"/><circle cx="370.1" cy="1074.52" r="7.5" fill="#000" stroke="#000" stroke-width="1.9"/><circle cx="579.6" cy="1017.8" r="7.5" fill="#000" stroke="#000" stroke-width="1.9"/><polyline points="160.5,1195.4 370.1,1076.12 579.6,960" fill="none" stroke="#000" stroke-width="2.15" stroke-linejoin="round"/><circle cx="160.5" cy="1195.4" r="5.5" fill="none" stroke="#000" stroke-width="1.9"/><line x1="160.5" y1="1189.9" x2="160.5" y2="1200.9" stroke="#000" stroke-width="1.9"/><circle cx="370.1" cy="1076.12" r="5.5" fill="none" stroke="#000" stroke-width="1.9"/><line x1="370.1" y1="1070.62" x2="370.1" y2="1081.62" stroke="#000" stroke-width="1.9"/><circle cx="579.6" cy="960" r="5.5" fill="none" stroke="#000" stroke-width="1.9"/><line x1="579.6" y1="954.5" x2="579.6" y2="965.5" stroke="#000" stroke-width="1.9"/><polyline points="160.5,1237 370.1,1077.16 579.6,991" fill="none" stroke="#000" stroke-width="2.15" stroke-linejoin="round"/><circle cx="160.5" cy="1237" r="7.5" fill="none" stroke="#000" stroke-width="1.9"/><circle cx="370.1" cy="1077.16" r="7.5" fill="none" stroke="#000" stroke-width="1.9"/><circle cx="579.6" cy="991" r="7.5" fill="none" stroke="#000" stroke-width="1.9"/><polyline points="160.5,1232 370.1,1079.5 579.6,1110.3" fill="none" stroke="#000" stroke-width="2.15" stroke-linejoin="round"/><circle cx="160.5" cy="1232" r="7.5" fill="none" stroke="#000" stroke-width="1.9"/><circle cx="370.1" cy="1079.5" r="7.5" fill="none" stroke="#000" stroke-width="1.9"/><circle cx="579.6" cy="1110.3" r="7.5" fill="none" stroke="#000" stroke-width="1.9"/><polyline points="160.5,1300 370.1,1088 579.6,1063" fill="none" stroke="#000" stroke-width="2.15" stroke-linejoin="round"/><circle cx="160.5" cy="1300" r="7.5" fill="none" stroke="#000" stroke-width="1.9"/><clipPath id="cp159"><circle cx="160.5" cy="1300" r="7.5"/></clipPath><rect x="150.75" y="1290.25" width="19.5" height="9.75" fill="#000" clip-path="url(#cp159)"/><circle cx="370.1" cy="1088" r="7.5" fill="none" stroke="#000" stroke-width="1.9"/><clipPath id="cp160"><circle cx="370.1" cy="1088" r="7.5"/></clipPath><rect x="360.35" y="1078.25" width="19.5" height="9.75" fill="#000" clip-path="url(#cp160)"/><circle cx="579.6" cy="1063" r="7.5" fill="none" stroke="#000" stroke-width="1.9"/><clipPath id="cp161"><circle cx="579.6" cy="1063" r="7.5"/></clipPath><rect x="569.85" y="1053.25" width="19.5" height="9.75" fill="#000" clip-path="url(#cp161)"/><polyline points="160.5,1259 370.1,1096 579.6,1101.4" fill="none" stroke="#000" stroke-width="2.15" stroke-linejoin="round"/><circle cx="160.5" cy="1259" r="7.5" fill="none" stroke="#000" stroke-width="1.9"/><clipPath id="cp162"><circle cx="160.5" cy="1259" r="7.5"/></clipPath><rect x="150.75" y="1249.25" width="19.5" height="9.75" fill="#000" clip-path="url(#cp162)"/><circle cx="370.1" cy="1096" r="7.5" fill="none" stroke="#000" stroke-width="1.9"/><clipPath id="cp163"><circle cx="370.1" cy="1096" r="7.5"/></clipPath><rect x="360.35" y="1086.25" width="19.5" height="9.75" fill="#000" clip-path="url(#cp163)"/><circle cx="579.6" cy="1101.4" r="7.5" fill="none" stroke="#000" stroke-width="1.9"/><clipPath id="cp164"><circle cx="579.6" cy="1101.4" r="7.5"/></clipPath><rect x="569.85" y="1091.65" width="19.5" height="9.75" fill="#000" clip-path="url(#cp164)"/><polyline points="160.5,1224.7 370.1,1101.2 579.6,959" fill="none" stroke="#000" stroke-width="2.15" stroke-linejoin="round"/><polygon points="160.5,1217.2 168,1230.7 153,1230.7" fill="#000" stroke="#000" stroke-width="1.9" stroke-linejoin="miter"/><polygon points="370.1,1093.7 377.6,1107.2 362.6,1107.2" fill="#000" stroke="#000" stroke-width="1.9" stroke-linejoin="miter"/><polygon points="579.6,951.5 587.1,965 572.1,965" fill="#000" stroke="#000" stroke-width="1.9" stroke-linejoin="miter"/><polyline points="160.5,1221 370.1,1104.68 579.6,1025" fill="none" stroke="#000" stroke-width="2.15" stroke-linejoin="round"/><polygon points="153.38,1213.88 167.62,1213.88 167.62,1228.12 153.38,1228.12" fill="none" stroke="#000" stroke-width="1.9" stroke-linejoin="miter"/><polygon points="362.98,1097.56 377.23,1097.56 377.23,1111.81 362.98,1111.81" fill="none" stroke="#000" stroke-width="1.9" stroke-linejoin="miter"/><polygon points="572.48,1017.88 586.73,1017.88 586.73,1032.12 572.48,1032.12" fill="none" stroke="#000" stroke-width="1.9" stroke-linejoin="miter"/><polyline points="160.5,1265.7 370.1,1117.2 579.6,1000" fill="none" stroke="#000" stroke-width="2.15" stroke-linejoin="round"/><polygon points="153.38,1258.58 167.62,1258.58 167.62,1272.83 153.38,1272.83" fill="none" stroke="#000" stroke-width="1.9" stroke-linejoin="miter"/><polygon points="362.98,1110.08 377.23,1110.08 377.23,1124.33 362.98,1124.33" fill="none" stroke="#000" stroke-width="1.9" stroke-linejoin="miter"/><polygon points="572.48,992.88 586.73,992.88 586.73,1007.12 572.48,1007.12" fill="none" stroke="#000" stroke-width="1.9" stroke-linejoin="miter"/><polyline points="160.5,1274.4 370.1,1128.4 579.6,1060" fill="none" stroke="#000" stroke-width="2.15" stroke-linejoin="round"/><circle cx="160.5" cy="1274.4" r="7.5" fill="none" stroke="#000" stroke-width="1.9"/><clipPath id="cp174"><circle cx="160.5" cy="1274.4" r="7.5"/></clipPath><g clip-path="url(#cp174)"><line x1="150.75" y1="1264.65" x2="170.25" y2="1284.15" stroke="#000" stroke-width="1.9"/><line x1="150.75" y1="1284.15" x2="170.25" y2="1264.65" stroke="#000" stroke-width="1.9"/></g><circle cx="370.1" cy="1128.4" r="7.5" fill="none" stroke="#000" stroke-width="1.9"/><clipPath id="cp175"><circle cx="370.1" cy="1128.4" r="7.5"/></clipPath><g clip-path="url(#cp175)"><line x1="360.35" y1="1118.65" x2="379.85" y2="1138.15" stroke="#000" stroke-width="1.9"/><line x1="360.35" y1="1138.15" x2="379.85" y2="1118.65" stroke="#000" stroke-width="1.9"/></g><circle cx="579.6" cy="1060" r="7.5" fill="none" stroke="#000" stroke-width="1.9"/><clipPath id="cp176"><circle cx="579.6" cy="1060" r="7.5"/></clipPath><g clip-path="url(#cp176)"><line x1="569.85" y1="1050.25" x2="589.35" y2="1069.75" stroke="#000" stroke-width="1.9"/><line x1="569.85" y1="1069.75" x2="589.35" y2="1050.25" stroke="#000" stroke-width="1.9"/></g><polyline points="160.5,1284 370.1,1134.6 579.6,1035.7" fill="none" stroke="#000" stroke-width="2.15" stroke-linejoin="round"/><line x1="153.38" y1="1276.88" x2="167.62" y2="1291.12" stroke="#000" stroke-width="1.9"/><line x1="153.38" y1="1291.12" x2="167.62" y2="1276.88" stroke="#000" stroke-width="1.9"/><line x1="362.98" y1="1127.48" x2="377.23" y2="1141.73" stroke="#000" stroke-width="1.9"/><line x1="362.98" y1="1141.73" x2="377.23" y2="1127.48" stroke="#000" stroke-width="1.9"/><line x1="572.48" y1="1028.58" x2="586.73" y2="1042.83" stroke="#000" stroke-width="1.9"/><line x1="572.48" y1="1042.83" x2="586.73" y2="1028.58" stroke="#000" stroke-width="1.9"/><polyline points="160.5,1271 370.1,1139.84 579.6,1071" fill="none" stroke="#000" stroke-width="2.15" stroke-linejoin="round"/><polygon points="153.38,1263.88 167.62,1263.88 167.62,1278.12 153.38,1278.12" fill="none" stroke="#000" stroke-width="1.9" stroke-linejoin="miter"/><polygon points="362.98,1132.72 377.23,1132.72 377.23,1146.97 362.98,1146.97" fill="none" stroke="#000" stroke-width="1.9" stroke-linejoin="miter"/><polygon points="572.48,1063.88 586.73,1063.88 586.73,1078.12 572.48,1078.12" fill="none" stroke="#000" stroke-width="1.9" stroke-linejoin="miter"/><polyline points="160.5,1282 370.1,1141.3 579.6,1013.8" fill="none" stroke="#000" stroke-width="2.15" stroke-linejoin="round"/><polygon points="160.5,1289.5 168,1276 153,1276" fill="#000" stroke="#000" stroke-width="1.9" stroke-linejoin="miter"/><polygon points="370.1,1148.8 377.6,1135.3 362.6,1135.3" fill="#000" stroke="#000" stroke-width="1.9" stroke-linejoin="miter"/><polygon points="579.6,1021.3 587.1,1007.8 572.1,1007.8" fill="#000" stroke="#000" stroke-width="1.9" stroke-linejoin="miter"/><polyline points="160.5,1265 370.1,1148.32 579.6,1000.7" fill="none" stroke="#000" stroke-width="2.15" stroke-linejoin="round"/><polygon points="153.38,1257.88 167.62,1257.88 167.62,1272.12 153.38,1272.12" fill="none" stroke="#000" stroke-width="1.9" stroke-linejoin="miter"/><polygon points="362.98,1141.2 377.23,1141.2 377.23,1155.45 362.98,1155.45" fill="none" stroke="#000" stroke-width="1.9" stroke-linejoin="miter"/><polygon points="572.48,993.58 586.73,993.58 586.73,1007.83 572.48,1007.83" fill="none" stroke="#000" stroke-width="1.9" stroke-linejoin="miter"/><polyline points="160.5,1307 370.1,1148.64 579.6,1074" fill="none" stroke="#000" stroke-width="2.15" stroke-linejoin="round"/><circle cx="160.5" cy="1307" r="7.5" fill="none" stroke="#000" stroke-width="1.9"/><circle cx="370.1" cy="1148.64" r="7.5" fill="none" stroke="#000" stroke-width="1.9"/><circle cx="579.6" cy="1074" r="7.5" fill="none" stroke="#000" stroke-width="1.9"/><polyline points="160.5,1308 370.1,1155.32 579.6,1001.8" fill="none" stroke="#000" stroke-width="2.15" stroke-linejoin="round"/><circle cx="160.5" cy="1308" r="7.5" fill="none" stroke="#000" stroke-width="1.9"/><circle cx="370.1" cy="1155.32" r="7.5" fill="none" stroke="#000" stroke-width="1.9"/><circle cx="579.6" cy="1001.8" r="7.5" fill="none" stroke="#000" stroke-width="1.9"/><polyline points="160.5,1292 370.1,1157.28 579.6,959" fill="none" stroke="#000" stroke-width="2.15" stroke-linejoin="round"/><polygon points="160.5,1299.5 168,1286 153,1286" fill="#000" stroke="#000" stroke-width="1.9" stroke-linejoin="miter"/><polygon points="370.1,1164.78 377.6,1151.28 362.6,1151.28" fill="#000" stroke="#000" stroke-width="1.9" stroke-linejoin="miter"/><polygon points="579.6,966.5 587.1,953 572.1,953" fill="#000" stroke="#000" stroke-width="1.9" stroke-linejoin="miter"/><polyline points="160.5,1280.5 370.1,1166.6 579.6,1098" fill="none" stroke="#000" stroke-width="2.15" stroke-linejoin="round"/><polygon points="160.5,1273 168,1280.5 160.5,1288 153,1280.5" fill="none" stroke="#000" stroke-width="1.9" stroke-linejoin="miter"/><polygon points="370.1,1159.1 377.6,1166.6 370.1,1174.1 362.6,1166.6" fill="none" stroke="#000" stroke-width="1.9" stroke-linejoin="miter"/><polygon points="579.6,1090.5 587.1,1098 579.6,1105.5 572.1,1098" fill="none" stroke="#000" stroke-width="1.9" stroke-linejoin="miter"/><polyline points="160.5,1289 370.1,1172.7 579.6,1151.6" fill="none" stroke="#000" stroke-width="2.15" stroke-linejoin="round"/><line x1="153" y1="1289" x2="168" y2="1289" stroke="#000" stroke-width="1.9"/><line x1="362.6" y1="1172.7" x2="377.6" y2="1172.7" stroke="#000" stroke-width="1.9"/><line x1="572.1" y1="1151.6" x2="587.1" y2="1151.6" stroke="#000" stroke-width="1.9"/><polyline points="160.5,1291 370.1,1188.12 579.6,1153.4" fill="none" stroke="#000" stroke-width="2.15" stroke-linejoin="round"/><circle cx="160.5" cy="1291" r="7.5" fill="#000" stroke="#000" stroke-width="1.9"/><circle cx="370.1" cy="1188.12" r="7.5" fill="#000" stroke="#000" stroke-width="1.9"/><circle cx="579.6" cy="1153.4" r="7.5" fill="#000" stroke="#000" stroke-width="1.9"/><polyline points="160.5,1293.7 370.1,1191.6 579.6,1115" fill="none" stroke="#000" stroke-width="2.15" stroke-linejoin="round"/><polygon points="153.38,1286.58 167.62,1286.58 167.62,1300.83 153.38,1300.83" fill="#000" stroke="#000" stroke-width="1.9" stroke-linejoin="miter"/><polygon points="362.98,1184.47 377.23,1184.47 377.23,1198.72 362.98,1198.72" fill="#000" stroke="#000" stroke-width="1.9" stroke-linejoin="miter"/><polygon points="572.48,1107.88 586.73,1107.88 586.73,1122.12 572.48,1122.12" fill="#000" stroke="#000" stroke-width="1.9" stroke-linejoin="miter"/><polyline points="160.5,1292 370.1,1194 579.6,1135.7" fill="none" stroke="#000" stroke-width="2.15" stroke-linejoin="round"/><circle cx="160.5" cy="1292" r="7.5" fill="none" stroke="#000" stroke-width="1.9"/><circle cx="370.1" cy="1194" r="7.5" fill="none" stroke="#000" stroke-width="1.9"/><circle cx="579.6" cy="1135.7" r="7.5" fill="none" stroke="#000" stroke-width="1.9"/><polyline points="160.5,1293 370.1,1200.52 579.6,1148" fill="none" stroke="#000" stroke-width="2.15" stroke-linejoin="round"/><polygon points="160.5,1285.5 168,1299 153,1299" fill="#000" stroke="#000" stroke-width="1.9" stroke-linejoin="miter"/><polygon points="370.1,1193.02 377.6,1206.52 362.6,1206.52" fill="#000" stroke="#000" stroke-width="1.9" stroke-linejoin="miter"/><polygon points="579.6,1140.5 587.1,1154 572.1,1154" fill="#000" stroke="#000" stroke-width="1.9" stroke-linejoin="miter"/><polyline points="160.5,1312 370.1,1206.2 579.6,1109" fill="none" stroke="#000" stroke-width="2.15" stroke-linejoin="round"/><polygon points="160.5,1319.5 168,1306 153,1306" fill="#000" stroke="#000" stroke-width="1.9" stroke-linejoin="miter"/><polygon points="370.1,1213.7 377.6,1200.2 362.6,1200.2" fill="#000" stroke="#000" stroke-width="1.9" stroke-linejoin="miter"/><polygon points="579.6,1116.5 587.1,1103 572.1,1103" fill="#000" stroke="#000" stroke-width="1.9" stroke-linejoin="miter"/><polyline points="160.5,1317 370.1,1208 579.6,1112" fill="none" stroke="#000" stroke-width="2.15" stroke-linejoin="round"/><polygon points="160.5,1309.5 168,1317 160.5,1324.5 153,1317" fill="#000" stroke="#000" stroke-width="1.9" stroke-linejoin="miter"/><polygon points="370.1,1200.5 377.6,1208 370.1,1215.5 362.6,1208" fill="#000" stroke="#000" stroke-width="1.9" stroke-linejoin="miter"/><polygon points="579.6,1104.5 587.1,1112 579.6,1119.5 572.1,1112" fill="#000" stroke="#000" stroke-width="1.9" stroke-linejoin="miter"/><polyline points="160.5,1310 370.1,1213.8 579.6,1115" fill="none" stroke="#000" stroke-width="2.15" stroke-linejoin="round"/><polygon points="168,1310 164.25,1316.5 156.75,1316.5 153,1310 156.75,1303.5 164.25,1303.5" fill="#000" stroke="#000" stroke-width="1.9" stroke-linejoin="miter"/><polygon points="377.6,1213.8 373.85,1220.3 366.35,1220.3 362.6,1213.8 366.35,1207.3 373.85,1207.3" fill="#000" stroke="#000" stroke-width="1.9" stroke-linejoin="miter"/><polygon points="587.1,1115 583.35,1121.5 575.85,1121.5 572.1,1115 575.85,1108.5 583.35,1108.5" fill="#000" stroke="#000" stroke-width="1.9" stroke-linejoin="miter"/><polyline points="160.5,1315 370.1,1218.3 579.6,1118" fill="none" stroke="#000" stroke-width="2.15" stroke-linejoin="round"/><polygon points="153.38,1307.88 167.62,1307.88 167.62,1322.12 153.38,1322.12" fill="#000" stroke="#000" stroke-width="1.9" stroke-linejoin="miter"/><polygon points="362.98,1211.17 377.23,1211.17 377.23,1225.42 362.98,1225.42" fill="#000" stroke="#000" stroke-width="1.9" stroke-linejoin="miter"/><polygon points="572.48,1110.88 586.73,1110.88 586.73,1125.12 572.48,1125.12" fill="#000" stroke="#000" stroke-width="1.9" stroke-linejoin="miter"/><polyline points="160.5,1287.5 370.1,1228.3 579.6,1064" fill="none" stroke="#000" stroke-width="2.15" stroke-linejoin="round"/><circle cx="160.5" cy="1287.5" r="7.5" fill="#000" stroke="#000" stroke-width="1.9"/><circle cx="370.1" cy="1228.3" r="7.5" fill="#000" stroke="#000" stroke-width="1.9"/><circle cx="579.6" cy="1064" r="7.5" fill="#000" stroke="#000" stroke-width="1.9"/><polyline points="160.5,1320.6 370.1,1230.4 579.6,1061" fill="none" stroke="#000" stroke-width="2.15" stroke-linejoin="round"/><circle cx="160.5" cy="1320.6" r="7.5" fill="none" stroke="#000" stroke-width="1.9"/><clipPath id="cp225"><circle cx="160.5" cy="1320.6" r="7.5"/></clipPath><rect x="150.75" y="1310.85" width="9.75" height="19.5" fill="#000" clip-path="url(#cp225)"/><circle cx="370.1" cy="1230.4" r="7.5" fill="none" stroke="#000" stroke-width="1.9"/><clipPath id="cp226"><circle cx="370.1" cy="1230.4" r="7.5"/></clipPath><rect x="360.35" y="1220.65" width="9.75" height="19.5" fill="#000" clip-path="url(#cp226)"/><circle cx="579.6" cy="1061" r="7.5" fill="none" stroke="#000" stroke-width="1.9"/><clipPath id="cp227"><circle cx="579.6" cy="1061" r="7.5"/></clipPath><rect x="569.85" y="1051.25" width="9.75" height="19.5" fill="#000" clip-path="url(#cp227)"/><polyline points="160.5,1324.5 370.1,1234.3 579.6,1212.4" fill="none" stroke="#000" stroke-width="2.15" stroke-linejoin="round"/><circle cx="160.5" cy="1324.5" r="7.5" fill="none" stroke="#000" stroke-width="1.9"/><clipPath id="cp228"><circle cx="160.5" cy="1324.5" r="7.5"/></clipPath><rect x="150.75" y="1314.75" width="19.5" height="9.75" fill="#000" clip-path="url(#cp228)"/><circle cx="370.1" cy="1234.3" r="7.5" fill="none" stroke="#000" stroke-width="1.9"/><clipPath id="cp229"><circle cx="370.1" cy="1234.3" r="7.5"/></clipPath><rect x="360.35" y="1224.55" width="19.5" height="9.75" fill="#000" clip-path="url(#cp229)"/><circle cx="579.6" cy="1212.4" r="7.5" fill="none" stroke="#000" stroke-width="1.9"/><clipPath id="cp230"><circle cx="579.6" cy="1212.4" r="7.5"/></clipPath><rect x="569.85" y="1202.65" width="19.5" height="9.75" fill="#000" clip-path="url(#cp230)"/><polyline points="160.5,1327.8 370.1,1237.98 579.6,1158.5" fill="none" stroke="#000" stroke-width="2.15" stroke-linejoin="round"/><polygon points="160.5,1320.3 168,1333.8 153,1333.8" fill="none" stroke="#000" stroke-width="1.9" stroke-linejoin="miter"/><polygon points="370.1,1230.48 377.6,1243.98 362.6,1243.98" fill="none" stroke="#000" stroke-width="1.9" stroke-linejoin="miter"/><polygon points="579.6,1151 587.1,1164.5 572.1,1164.5" fill="none" stroke="#000" stroke-width="1.9" stroke-linejoin="miter"/><polyline points="160.5,1331.7 370.1,1241.6 579.6,1142.7" fill="none" stroke="#000" stroke-width="2.15" stroke-linejoin="round"/><polygon points="153.38,1324.58 167.62,1324.58 167.62,1338.83 153.38,1338.83" fill="none" stroke="#000" stroke-width="1.9" stroke-linejoin="miter"/><clipPath id="cp234"><polygon points="153.38,1324.58 167.62,1324.58 167.62,1338.83 153.38,1338.83"/></clipPath><rect x="160.5" y="1321.95" width="9.75" height="19.5" fill="#000" clip-path="url(#cp234)"/><polygon points="362.98,1234.48 377.23,1234.48 377.23,1248.73 362.98,1248.73" fill="none" stroke="#000" stroke-width="1.9" stroke-linejoin="miter"/><clipPath id="cp235"><polygon points="362.98,1234.48 377.23,1234.48 377.23,1248.73 362.98,1248.73"/></clipPath><rect x="370.1" y="1231.85" width="9.75" height="19.5" fill="#000" clip-path="url(#cp235)"/><polygon points="572.48,1135.58 586.73,1135.58 586.73,1149.83 572.48,1149.83" fill="none" stroke="#000" stroke-width="1.9" stroke-linejoin="miter"/><clipPath id="cp236"><polygon points="572.48,1135.58 586.73,1135.58 586.73,1149.83 572.48,1149.83"/></clipPath><rect x="579.6" y="1132.95" width="9.75" height="19.5" fill="#000" clip-path="url(#cp236)"/><polyline points="160.5,1353 370.1,1247.6 579.6,1173" fill="none" stroke="#000" stroke-width="2.15" stroke-linejoin="round"/><polygon points="160.5,1345.5 168,1353 160.5,1360.5 153,1353" fill="#000" stroke="#000" stroke-width="1.9" stroke-linejoin="miter"/><polygon points="370.1,1240.1 377.6,1247.6 370.1,1255.1 362.6,1247.6" fill="#000" stroke="#000" stroke-width="1.9" stroke-linejoin="miter"/><polygon points="579.6,1165.5 587.1,1173 579.6,1180.5 572.1,1173" fill="#000" stroke="#000" stroke-width="1.9" stroke-linejoin="miter"/><polyline points="160.5,1319 370.1,1251.16 579.6,1176" fill="none" stroke="#000" stroke-width="2.15" stroke-linejoin="round"/><polygon points="160.5,1311.5 168,1325 153,1325" fill="#000" stroke="#000" stroke-width="1.9" stroke-linejoin="miter"/><polygon points="370.1,1243.66 377.6,1257.16 362.6,1257.16" fill="#000" stroke="#000" stroke-width="1.9" stroke-linejoin="miter"/><polygon points="579.6,1168.5 587.1,1182 572.1,1182" fill="#000" stroke="#000" stroke-width="1.9" stroke-linejoin="miter"/><polyline points="160.5,1344 370.1,1258 579.6,1225.7" fill="none" stroke="#000" stroke-width="2.15" stroke-linejoin="round"/><polygon points="160.5,1336.5 168,1350 153,1350" fill="none" stroke="#000" stroke-width="1.9" stroke-linejoin="miter"/><clipPath id="cp243"><polygon points="160.5,1336.5 168,1350 153,1350"/></clipPath><rect x="160.5" y="1334.25" width="9.75" height="19.5" fill="#000" clip-path="url(#cp243)"/><polygon points="370.1,1250.5 377.6,1264 362.6,1264" fill="none" stroke="#000" stroke-width="1.9" stroke-linejoin="miter"/><clipPath id="cp244"><polygon points="370.1,1250.5 377.6,1264 362.6,1264"/></clipPath><rect x="370.1" y="1248.25" width="9.75" height="19.5" fill="#000" clip-path="url(#cp244)"/><polygon points="579.6,1218.2 587.1,1231.7 572.1,1231.7" fill="none" stroke="#000" stroke-width="1.9" stroke-linejoin="miter"/><clipPath id="cp245"><polygon points="579.6,1218.2 587.1,1231.7 572.1,1231.7"/></clipPath><rect x="579.6" y="1215.95" width="9.75" height="19.5" fill="#000" clip-path="url(#cp245)"/><polyline points="160.5,1303 370.1,1266.04 579.6,1192" fill="none" stroke="#000" stroke-width="2.15" stroke-linejoin="round"/><polygon points="160.5,1295.5 168,1303 160.5,1310.5 153,1303" fill="none" stroke="#000" stroke-width="1.9" stroke-linejoin="miter"/><polygon points="370.1,1258.54 377.6,1266.04 370.1,1273.54 362.6,1266.04" fill="none" stroke="#000" stroke-width="1.9" stroke-linejoin="miter"/><polygon points="579.6,1184.5 587.1,1192 579.6,1199.5 572.1,1192" fill="none" stroke="#000" stroke-width="1.9" stroke-linejoin="miter"/><polyline points="160.5,1331.5 370.1,1267.4 579.6,1107" fill="none" stroke="#000" stroke-width="2.15" stroke-linejoin="round"/><circle cx="160.5" cy="1331.5" r="7.5" fill="#000" stroke="#000" stroke-width="1.9"/><circle cx="370.1" cy="1267.4" r="7.5" fill="#000" stroke="#000" stroke-width="1.9"/><circle cx="579.6" cy="1107" r="7.5" fill="#000" stroke="#000" stroke-width="1.9"/><polyline points="160.5,1315.3 370.1,1296.7 579.6,1259" fill="none" stroke="#000" stroke-width="2.15" stroke-linejoin="round"/><polygon points="160.5,1307.8 168,1315.3 160.5,1322.8 153,1315.3" fill="none" stroke="#000" stroke-width="1.9" stroke-linejoin="miter"/><clipPath id="cp252"><polygon points="160.5,1307.8 168,1315.3 160.5,1322.8 153,1315.3"/></clipPath><g clip-path="url(#cp252)"><line x1="150.75" y1="1315.3" x2="170.25" y2="1315.3" stroke="#000" stroke-width="1.9"/><line x1="160.5" y1="1305.55" x2="160.5" y2="1325.05" stroke="#000" stroke-width="1.9"/></g><polygon points="370.1,1289.2 377.6,1296.7 370.1,1304.2 362.6,1296.7" fill="none" stroke="#000" stroke-width="1.9" stroke-linejoin="miter"/><clipPath id="cp253"><polygon points="370.1,1289.2 377.6,1296.7 370.1,1304.2 362.6,1296.7"/></clipPath><g clip-path="url(#cp253)"><line x1="360.35" y1="1296.7" x2="379.85" y2="1296.7" stroke="#000" stroke-width="1.9"/><line x1="370.1" y1="1286.95" x2="370.1" y2="1306.45" stroke="#000" stroke-width="1.9"/></g><polygon points="579.6,1251.5 587.1,1259 579.6,1266.5 572.1,1259" fill="none" stroke="#000" stroke-width="1.9" stroke-linejoin="miter"/><clipPath id="cp254"><polygon points="579.6,1251.5 587.1,1259 579.6,1266.5 572.1,1259"/></clipPath><g clip-path="url(#cp254)"><line x1="569.85" y1="1259" x2="589.35" y2="1259" stroke="#000" stroke-width="1.9"/><line x1="579.6" y1="1249.25" x2="579.6" y2="1268.75" stroke="#000" stroke-width="1.9"/></g></g>
<rect x="55.9" y="815.4" width="628.5" height="628.6" fill="none" stroke="#3c3c3c" stroke-width="1.7"/>
<text x="46.4" y="1448.7" text-anchor="end" font-weight="bold" font-size="13">0</text>
<text x="46.4" y="1322.98" text-anchor="end" font-weight="bold" font-size="13">100</text>
<text x="46.4" y="1197.26" text-anchor="end" font-weight="bold" font-size="13">200</text>
<text x="46.4" y="1071.54" text-anchor="end" font-weight="bold" font-size="13">300</text>
<text x="46.4" y="945.82" text-anchor="end" font-weight="bold" font-size="13">400</text>
<text x="46.4" y="820.1" text-anchor="end" font-weight="bold" font-size="13">500</text>
<text x="160.5" y="1465.4" text-anchor="middle" font-weight="bold" font-size="13">1</text>
<text x="370.1" y="1465.4" text-anchor="middle" font-weight="bold" font-size="13">2</text>
<text x="579.6" y="1465.4" text-anchor="middle" font-weight="bold" font-size="13">3</text>
<path d="M48.9 1444H55.9M52.2 1431.43H55.9M52.2 1418.86H55.9M52.2 1406.28H55.9M52.2 1393.71H55.9M52.2 1381.14H55.9M52.2 1368.57H55.9M52.2 1356H55.9M52.2 1343.42H55.9M52.2 1330.85H55.9M48.9 1318.28H55.9M52.2 1305.71H55.9M52.2 1293.14H55.9M52.2 1280.56H55.9M52.2 1267.99H55.9M52.2 1255.42H55.9M52.2 1242.85H55.9M52.2 1230.28H55.9M52.2 1217.7H55.9M52.2 1205.13H55.9M48.9 1192.56H55.9M52.2 1179.99H55.9M52.2 1167.42H55.9M52.2 1154.84H55.9M52.2 1142.27H55.9M52.2 1129.7H55.9M52.2 1117.13H55.9M52.2 1104.56H55.9M52.2 1091.98H55.9M52.2 1079.41H55.9M48.9 1066.84H55.9M52.2 1054.27H55.9M52.2 1041.7H55.9M52.2 1029.12H55.9M52.2 1016.55H55.9M52.2 1003.98H55.9M52.2 991.41H55.9M52.2 978.84H55.9M52.2 966.26H55.9M52.2 953.69H55.9M48.9 941.12H55.9M52.2 928.55H55.9M52.2 915.98H55.9M52.2 903.4H55.9M52.2 890.83H55.9M52.2 878.26H55.9M52.2 865.69H55.9M52.2 853.12H55.9M52.2 840.54H55.9M52.2 827.97H55.9M48.9 815.4H55.9M160.5 1444V1450.8M370.1 1444V1450.8M579.6 1444V1450.8" stroke="#222" stroke-width="1.4" fill="none"/>
<text x="63.8" y="835.9" font-size="15">IOD = Inter-occasion difference</text>
<text x="231.2" y="1412" font-size="14.7">IOD<tspan font-size="9.7" dy="2.2">1</tspan><tspan dy="-2.2"> (%) = 14.1</tspan></text>
<text x="439.6" y="1412" font-size="15.2">IOD<tspan font-size="10.03" dy="2.2">2</tspan><tspan dy="-2.2"> (%) = 11.7</tspan></text>
<text x="370.1" y="1485.8" text-anchor="middle" font-weight="bold" font-size="14.6">Treatment course of cyclophosphamide</text>
<text x="373.1" y="1517.8" text-anchor="middle" font-weight="bold" font-size="25">B</text>
<text transform="translate(16.3 1129.7) rotate(-90)" text-anchor="middle" font-weight="bold" font-size="14.8">PAM-Hb (pmol g<tspan font-size="10" dy="-5.5">-1</tspan><tspan dy="5.5"> Hb)</tspan></text>
</svg>
</body></html>
